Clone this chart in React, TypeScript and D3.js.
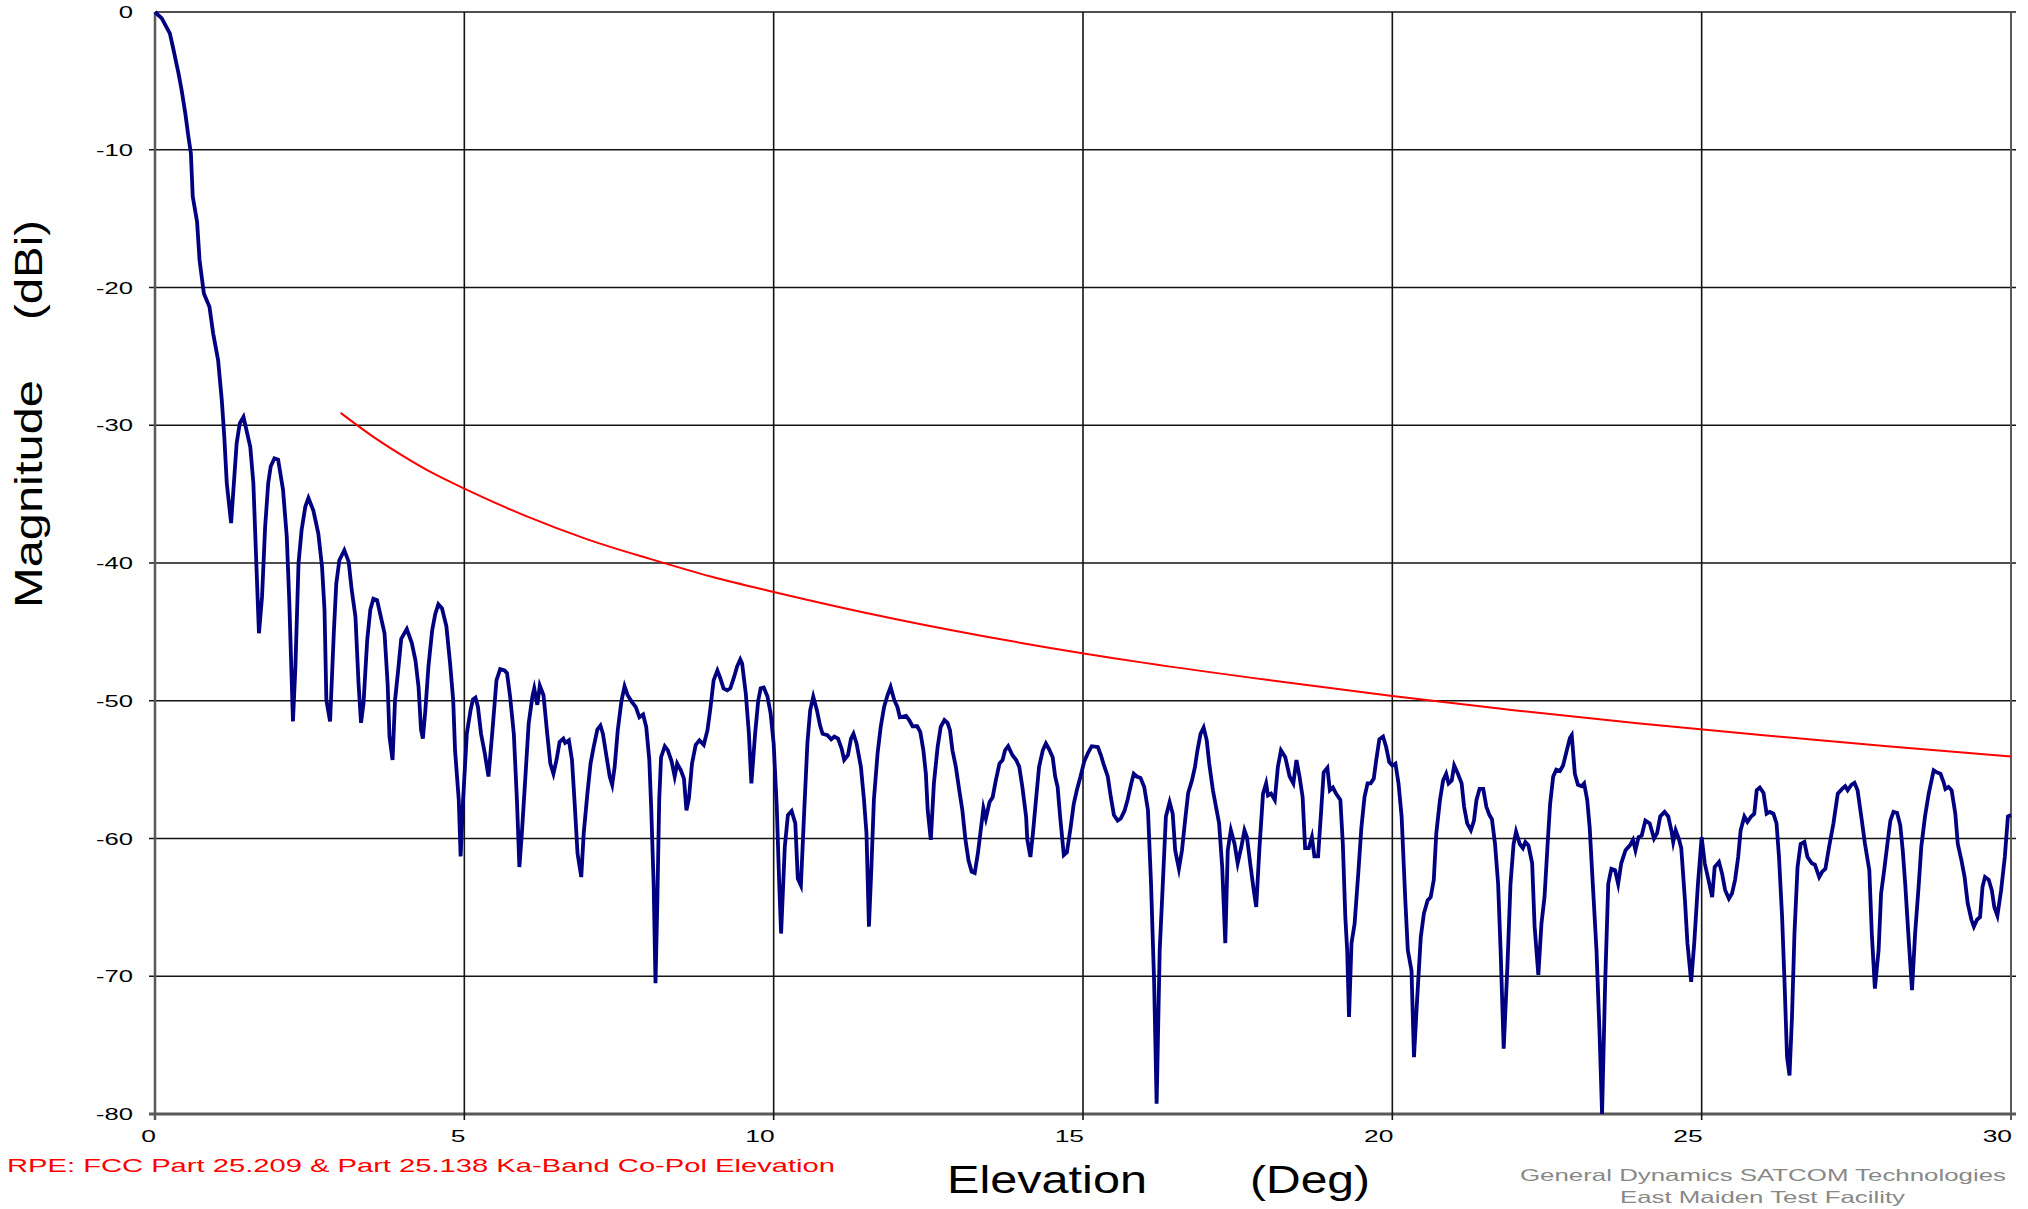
import React from "react";
import * as d3 from "d3";

// ---- Data ----
const elevationDeg: number[] = [
  0, 0.11, 0.24, 0.30, 0.38, 0.43, 0.49, 0.54, 0.58, 0.61, 0.68, 0.72, 0.79, 0.88, 0.94, 1.02, 1.08, 1.12, 1.16, 1.23,
  1.32, 1.37, 1.43, 1.54, 1.59, 1.63, 1.68, 1.73, 1.78, 1.83, 1.87, 1.93, 1.99, 2.07, 2.13, 2.17, 2.23, 2.27, 2.32, 2.37,
  2.43, 2.48, 2.56, 2.64, 2.70, 2.74, 2.77, 2.83, 2.89, 2.93, 2.98, 3.06, 3.13, 3.18, 3.24, 3.29, 3.33, 3.37, 3.43, 3.48,
  3.53, 3.59, 3.65, 3.71, 3.76, 3.79, 3.84, 3.88, 3.93, 3.98, 4.07, 4.15, 4.21, 4.26, 4.30, 4.33, 4.37, 4.42, 4.48, 4.53,
  4.58, 4.64, 4.71, 4.77, 4.82, 4.85, 4.91, 4.94, 4.98, 5.04, 5.10, 5.14, 5.18, 5.22, 5.27, 5.33, 5.39, 5.45, 5.52, 5.58,
  5.65, 5.69, 5.74, 5.80, 5.85, 5.89, 5.93, 5.99, 6.04, 6.10, 6.13, 6.18, 6.22, 6.28, 6.34, 6.39, 6.44, 6.49, 6.54, 6.60,
  6.63, 6.69, 6.74, 6.78, 6.83, 6.89, 6.93, 6.99, 7.04, 7.09, 7.15, 7.20, 7.24, 7.30, 7.35, 7.39, 7.43, 7.48, 7.54, 7.59,
  7.64, 7.71, 7.77, 7.83, 7.89, 7.94, 7.99, 8.02, 8.06, 8.09, 8.12, 8.15, 8.18, 8.24, 8.29, 8.35, 8.40, 8.44, 8.50, 8.55,
  8.59, 8.63, 8.68, 8.74, 8.80, 8.87, 8.93, 8.98, 9.03, 9.09, 9.13, 9.19, 9.25, 9.30, 9.36, 9.41, 9.46, 9.49, 9.55, 9.60,
  9.64, 9.70, 9.75, 9.79, 9.84, 9.90, 9.95, 10.00, 10.05, 10.09, 10.12, 10.18, 10.23, 10.29, 10.35, 10.39, 10.44, 10.49, 10.545, 10.59,
  10.64, 10.70, 10.75, 10.79, 10.87, 10.93, 10.98, 11.04, 11.10, 11.14, 11.20, 11.25, 11.29, 11.34, 11.41, 11.46, 11.50, 11.54, 11.58, 11.62,
  11.68, 11.73, 11.785, 11.84, 11.89, 11.95, 12.00, 12.04, 12.14, 12.19, 12.245, 12.32, 12.37, 12.42, 12.46, 12.49, 12.54, 12.59, 12.65, 12.70,
  12.76, 12.81, 12.85, 12.89, 12.945, 13.00, 13.05, 13.10, 13.15, 13.20, 13.25, 13.30, 13.34, 13.39, 13.43, 13.49, 13.54, 13.59, 13.65, 13.70,
  13.74, 13.79, 13.86, 13.92, 13.97, 14.02, 14.08, 14.10, 14.15, 14.19, 14.24, 14.29, 14.35, 14.40, 14.45, 14.51, 14.55, 14.59, 14.63, 14.69,
  14.74, 14.80, 14.85, 14.90, 14.96, 15.02, 15.08, 15.14, 15.24, 15.29, 15.33, 15.40, 15.45, 15.50, 15.56, 15.61, 15.67, 15.72, 15.78, 15.82,
  15.87, 15.93, 15.99, 16.05, 16.10, 16.15, 16.19, 16.24, 16.29, 16.34, 16.40, 16.45, 16.49, 16.55, 16.60, 16.65, 16.70, 16.76, 16.81, 16.85,
  16.90, 16.95, 17.00, 17.04, 17.10, 17.15, 17.20, 17.25, 17.30, 17.34, 17.39, 17.45, 17.50, 17.56, 17.61, 17.65, 17.71, 17.76, 17.80, 17.85,
  17.91, 17.96, 17.99, 18.04, 18.10, 18.15, 18.20, 18.27, 18.34, 18.40, 18.45, 18.50, 18.55, 18.59, 18.65, 18.70, 18.74, 18.80, 18.85, 18.89,
  18.95, 18.99, 19.04, 19.09, 19.16, 19.20, 19.24, 19.27, 19.30, 19.34, 19.39, 19.45, 19.50, 19.55, 19.60, 19.65, 19.70, 19.74, 19.79, 19.85,
  19.90, 19.95, 20.00, 20.05, 20.10, 20.15, 20.21, 20.25, 20.31, 20.35, 20.40, 20.46, 20.51, 20.57, 20.62, 20.67, 20.71, 20.77, 20.82, 20.87,
  20.91, 20.96, 21.00, 21.06, 21.12, 21.16, 21.21, 21.27, 21.32, 21.36, 21.41, 21.47, 21.52, 21.57, 21.61, 21.66, 21.71, 21.75, 21.80, 21.86,
  21.91, 21.96, 22.00, 22.06, 22.11, 22.15, 22.20, 22.26, 22.30, 22.36, 22.41, 22.46, 22.51, 22.55, 22.60, 22.65, 22.71, 22.76, 22.82, 22.87,
  22.90, 22.95, 23.00, 23.06, 23.10, 23.15, 23.19, 23.24, 23.30, 23.35, 23.39, 23.44, 23.49, 23.54, 23.60, 23.65, 23.70, 23.77, 23.84, 23.89,
  23.93, 23.98, 24.03, 24.09, 24.16, 24.23, 24.28, 24.33, 24.40, 24.46, 24.51, 24.54, 24.58, 24.63, 24.67, 24.73, 24.77, 24.83, 24.88, 24.94,
  25.00, 25.05, 25.11, 25.17, 25.21, 25.28, 25.33, 25.38, 25.44, 25.49, 25.54, 25.59, 25.63, 25.69, 25.74, 25.80, 25.85, 25.89, 25.94, 26.00,
  26.05, 26.10, 26.16, 26.21, 26.25, 26.30, 26.34, 26.38, 26.42, 26.46, 26.50, 26.55, 26.60, 26.66, 26.71, 26.78, 26.83, 26.90, 26.95, 27.00,
  27.06, 27.13, 27.20, 27.27, 27.32, 27.36, 27.42, 27.47, 27.52, 27.58, 27.64, 27.71, 27.75, 27.80, 27.86, 27.90, 27.95, 28.01, 28.05, 28.10,
  28.16, 28.21, 28.25, 28.29, 28.35, 28.40, 28.45, 28.51, 28.55, 28.61, 28.67, 28.75, 28.80, 28.86, 28.91, 28.94, 28.99, 29.04, 29.10, 29.14,
  29.20, 29.25, 29.30, 29.36, 29.40, 29.45, 29.50, 29.54, 29.58, 29.64, 29.69, 29.73, 29.78, 29.84, 29.90, 29.95, 30.00,
];

const magnitudeDbi: number[] = [
  0, -0.46, -1.55, -2.76, -4.45, -5.66, -7.36, -9.06, -10.26, -13.4, -15.23, -18.0, -20.43, -21.4, -23.33, -25.27, -28.2, -30.84, -34.2, -37.1,
  -31.3, -29.87, -29.4, -31.57, -34.2, -39.07, -45.1, -42.46, -37.4, -34.2, -33.0, -32.4, -32.5, -34.7, -38.1, -42.7, -51.5, -47.5, -40.0, -37.6,
  -35.9, -35.27, -36.2, -37.86, -40.28, -43.4, -49.96, -51.5, -45.1, -41.5, -39.8, -39.07, -39.9, -41.97, -43.9, -48.75, -51.6, -50.2, -45.6, -43.4,
  -42.6, -42.7, -43.9, -45.1, -48.75, -52.6, -54.3, -49.96, -47.8, -45.5, -44.8, -45.8, -47.06, -49.0, -52.1, -52.75, -50.7, -47.5, -44.9, -43.7,
  -43.0, -43.3, -44.6, -47.3, -49.96, -53.6, -57.2, -61.3, -57.2, -52.4, -50.7, -49.9, -49.77, -50.45, -52.4, -53.8, -55.5, -52.4, -48.5, -47.7,
  -47.8, -48.0, -49.7, -52.4, -57.2, -62.07, -59.6, -55.3, -51.65, -49.7, -49.1, -50.3, -48.9, -49.6, -52.4, -54.56, -55.3, -54.3, -53.0, -52.75,
  -53.06, -52.87, -54.3, -57.2, -61.1, -62.8, -59.6, -56.7, -54.56, -53.36, -52.1, -51.8, -52.4, -54.1, -55.5, -56.1, -54.8, -52.14, -50.0, -48.95,
  -49.6, -50.1, -50.45, -51.2, -51.0, -51.9, -54.3, -57.7, -63.3, -70.5, -64.5, -57.2, -54.1, -53.3, -53.6, -54.4, -55.5, -54.56, -55.05, -55.65,
  -57.95, -57.1, -54.56, -53.2, -52.87, -53.2, -52.14, -50.45, -48.5, -47.8, -48.27, -49.1, -49.24, -49.1, -48.27, -47.5, -47.0, -47.3, -49.5, -52.4,
  -56.0, -52.4, -50.0, -49.1, -49.04, -49.7, -50.9, -53.1, -57.7, -63.3, -66.9, -60.6, -58.3, -58.0, -58.9, -62.9, -63.4, -58.4, -53.1, -50.7,
  -49.7, -50.7, -51.8, -52.4, -52.5, -52.8, -52.6, -52.75, -53.5, -54.3, -53.96, -52.75, -52.4, -53.1, -54.8, -57.2, -59.6, -66.4, -62.07, -57.2,
  -53.8, -51.9, -50.45, -49.6, -48.99, -49.96, -50.45, -51.2, -51.1, -51.4, -51.85, -51.85, -52.26, -53.6, -55.3, -57.95, -60.1, -56.0, -53.36, -51.9,
  -51.4, -51.6, -52.14, -53.6, -54.8, -56.5, -57.95, -60.1, -61.6, -62.4, -62.5, -61.1, -59.65, -57.8, -58.55, -57.35, -57.0, -55.8, -54.56, -54.3,
  -53.6, -53.3, -53.96, -54.3, -54.8, -56.26, -58.4, -60.1, -61.34, -59.65, -57.2, -54.8, -53.6, -53.1, -53.5, -54.1, -55.5, -56.26, -58.4, -61.2,
  -61.0, -59.2, -57.5, -56.5, -55.5, -54.4, -53.8, -53.3, -53.36, -53.96, -54.56, -55.5, -57.0, -58.3, -58.7, -58.55, -58.0, -57.2, -56.0, -55.3,
  -55.5, -55.6, -56.26, -57.95, -63.3, -70.5, -79.25, -68.1, -63.3, -58.4, -57.35, -58.2, -60.85, -62.2, -60.85, -58.7, -56.7, -55.8, -54.8, -53.6,
  -52.4, -51.95, -52.87, -54.56, -56.5, -57.7, -58.9, -62.07, -67.6, -60.85, -59.4, -60.4, -61.8, -60.6, -59.4, -59.9, -62.07, -63.76, -64.97, -60.85,
  -56.74, -56.0, -56.87, -56.74, -57.2, -54.8, -53.6, -54.1, -55.5, -56.0, -54.3, -55.5, -57.0, -60.7, -60.7, -59.9, -61.3, -61.3, -57.95, -55.2,
  -54.86, -56.5, -56.3, -56.74, -57.2, -60.4, -65.7, -68.1, -72.96, -67.6, -66.2, -62.5, -59.2, -57.0, -56.0, -56.0, -55.65, -54.3, -52.8, -52.6,
  -53.36, -54.45, -54.7, -54.56, -56.0, -58.4, -64.5, -68.1, -69.6, -75.87, -71.75, -67.15, -65.45, -64.5, -64.25, -63.0, -59.65, -57.2, -55.8, -55.3,
  -56.0, -55.8, -54.7, -55.3, -56.0, -57.7, -58.9, -59.4, -58.7, -57.2, -56.4, -56.4, -57.7, -58.3, -58.6, -60.4, -63.3, -68.1, -75.26, -69.3,
  -63.3, -60.4, -59.5, -60.4, -60.7, -60.25, -60.5, -61.8, -66.4, -69.9, -66.2, -64.25, -60.4, -57.5, -55.5, -55.0, -55.1, -54.7, -53.6, -52.7,
  -52.5, -55.3, -56.1, -56.2, -56.0, -57.2, -59.2, -63.3, -68.1, -74.2, -80.0, -70.5, -63.3, -62.2, -62.3, -63.3, -61.8, -60.85, -60.5, -60.1,
  -60.85, -59.9, -59.8, -58.7, -58.9, -60.0, -59.6, -58.4, -58.07, -58.4, -59.4, -60.25, -59.4, -60.0, -60.7, -64.5, -67.6, -70.4, -67.6, -63.3,
  -59.9, -61.8, -63.0, -64.25, -62.07, -61.7, -62.55, -63.76, -64.37, -64.0, -63.0, -61.34, -59.4, -58.4, -58.8, -58.4, -58.2, -56.5, -56.3, -56.7,
  -58.2, -58.07, -58.2, -58.9, -61.34, -65.7, -70.5, -75.87, -77.2, -72.96, -66.9, -62.07, -60.4, -60.25, -61.34, -61.8, -61.9, -62.8, -62.4, -62.2,
  -60.6, -58.9, -56.74, -56.4, -56.2, -56.5, -56.1, -55.96, -56.5, -58.4, -60.4, -62.3, -66.9, -70.9, -68.1, -64.0, -62.3, -60.1, -58.7, -58.07,
  -58.15, -59.04, -60.85, -63.3, -67.6, -71.0, -66.9, -63.3, -60.6, -58.4, -56.74, -55.05, -55.2, -55.3, -55.9, -56.4, -56.26, -56.5, -58.2, -60.4,
  -61.6, -62.8, -64.7, -65.9, -66.4, -65.9, -65.7, -63.5, -62.8, -63.0, -63.76, -64.97, -65.6, -63.76, -61.34, -58.4, -58.3,
];

// FCC envelope (red)
const maskDeg: number[] = [3, 3.5, 4, 4.5, 5, 6, 7, 8, 9, 10, 12, 14, 16, 18, 20, 22, 24, 26, 28, 30];
const maskDbi: number[] = [-29.1, -30.75, -32.2, -33.5, -34.6, -36.6, -38.3, -39.7, -41.0, -42.1, -44.1, -45.8, -47.25, -48.5, -49.65, -50.7, -51.65, -52.5, -53.3, -54.05];

const xTicks: number[] = [0, 5, 10, 15, 20, 25, 30];
const yTicks: number[] = [0, -10, -20, -30, -40, -50, -60, -70, -80];

const xTitle = "Elevation";
const xUnit = "(Deg)";
const yTitle = "Magnitude";
const yUnit = "(dBi)";
const captionLeft = "RPE: FCC Part 25.209 & Part 25.138 Ka-Band Co-Pol Elevation";
const captionRight1 = "General Dynamics SATCOM Technologies";
const captionRight2 = "East Maiden Test Facility";

const FONT = "'Liberation Sans', Arial, Helvetica, sans-serif";

export default function App() {
  const W = 2028;
  const H = 1209;
  const x = d3.scaleLinear().domain([0, 30]).range([155, 2011]);
  const y = d3.scaleLinear().domain([-80, 0]).range([1114, 12]);

  const measured = elevationDeg.map((d, i) => [d, magnitudeDbi[i]] as [number, number]);
  const mask = maskDeg.map((d, i) => [d, maskDbi[i]] as [number, number]);

  const line = d3
    .line<[number, number]>()
    .x((d) => x(d[0]))
    .y((d) => y(d[1]));
  const maskLine = d3
    .line<[number, number]>()
    .x((d) => x(d[0]))
    .y((d) => y(d[1]))
    .curve(d3.curveMonotoneX);

  const [x0, x1] = x.range();
  const [yb, yt] = y.range();

  return (
    <svg
      width={W}
      height={H}
      style={{ position: "absolute", left: 0, top: 0, display: "block", background: "#fff" }}
      fontFamily={FONT}
    >
      <rect x={0} y={0} width={W} height={H} fill="#fff" />
      {/* horizontal gridlines */}
      {yTicks.map((t) => (
        <line
          key={"h" + t}
          x1={t === 0 ? x0 : x0 - 6}
          x2={x1 + 5}
          y1={y(t)}
          y2={y(t)}
          stroke={t === -80 ? "#595959" : "#141414"}
          strokeWidth={t === -80 ? 3 : 1.6}
        />
      ))}
      {/* vertical gridlines */}
      {xTicks.map((t) => (
        <line
          key={"v" + t}
          x1={x(t)}
          x2={x(t)}
          y1={yt}
          y2={yb + 6}
          stroke={t === 0 || t === 30 ? "#595959" : "#141414"}
          strokeWidth={t === 0 ? 2.5 : t === 30 ? 2 : 1.6}
        />
      ))}

      {/* FCC mask */}
      <path d={maskLine(mask) || ""} fill="none" stroke="#ff0000" strokeWidth={2} />
      {/* measured pattern */}
      <path d={line(measured) || ""} fill="none" stroke="#000080" strokeWidth={3.8} strokeLinejoin="miter" strokeMiterlimit={6} />

      {/* y tick labels */}
      {yTicks.map((t) => (
        <text
          key={"yl" + t}
          transform={`translate(133,${y(t) + 6}) scale(1.6,1)`}
          textAnchor="end"
          fontSize={16}
          fill="#000"
        >
          {t}
        </text>
      ))}
      {/* x tick labels */}
      {xTicks.map((t) => (
        <text
          key={"xl" + t}
          transform={`translate(${x(t) + 1},1142) scale(1.6,1)`}
          textAnchor="end"
          fontSize={16.5}
          fill="#000"
        >
          {t}
        </text>
      ))}

      {/* axis titles */}
      <text x={947} y={1193} fontSize={38} textLength={200} lengthAdjust="spacingAndGlyphs" fill="#000">
        {xTitle}
      </text>
      <text x={1250} y={1193} fontSize={38} textLength={120} lengthAdjust="spacingAndGlyphs" fill="#000">
        {xUnit}
      </text>
      <text
        transform="translate(42,608) rotate(-90)"
        fontSize={39}
        textLength={228}
        lengthAdjust="spacingAndGlyphs"
        fill="#000"
      >
        {yTitle}
      </text>
      <text
        transform="translate(42,320) rotate(-90)"
        fontSize={39}
        textLength={100}
        lengthAdjust="spacingAndGlyphs"
        fill="#000"
      >
        {yUnit}
      </text>

      {/* captions */}
      <text x={7} y={1172} fontSize={18.5} textLength={828} lengthAdjust="spacingAndGlyphs" fill="#ff0000">
        {captionLeft}
      </text>
      <text x={1520} y={1181} fontSize={16.5} textLength={486} lengthAdjust="spacingAndGlyphs" fill="#888888">
        {captionRight1}
      </text>
      <text x={1620} y={1203} fontSize={16.5} textLength={285} lengthAdjust="spacingAndGlyphs" fill="#888888">
        {captionRight2}
      </text>
    </svg>
  );
}
